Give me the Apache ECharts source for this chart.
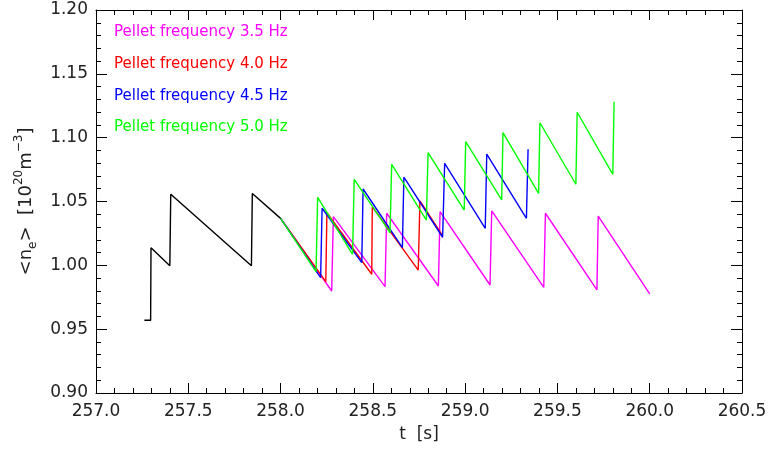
<!DOCTYPE html>
<html>
<head>
<meta charset="utf-8">
<script src="https://cdn.jsdelivr.net/npm/echarts@6/dist/echarts.min.js"></script>
<style>html,body{margin:0;padding:0;background:#fff}#c{width:773px;height:455px}</style>
</head>
<body>
<div id="c"></div>
<script>
// ---- data ----
var xTicks = [257.0, 257.5, 258.0, 258.5, 259.0, 259.5, 260.0, 260.5];
var yTicks = [0.90, 0.95, 1.00, 1.05, 1.10, 1.15, 1.20];

var blackT = [257.262, 257.296, 257.298, 257.400, 257.405, 257.842, 257.847, 258.000];
var blackV = [0.957, 0.957, 1.0138, 0.9997, 1.0556, 0.9997, 1.0563, 1.0368];

var magT = [258.0, 258.277, 258.286, 258.566, 258.575, 258.855, 258.864, 259.135, 259.144, 259.426, 259.435, 259.714, 259.721, 260.0];
var magV = [1.0368, 0.9799, 1.0381, 0.9833, 1.0408, 0.9838, 1.0420, 0.9846, 1.0426, 0.9828, 1.0408, 0.9807, 1.0386, 0.9776];

var redT = [258.0, 258.245, 258.251, 258.494, 258.497, 258.746, 258.755, 258.875];
var redV = [1.0368, 0.9872, 1.0412, 0.9930, 1.0459, 0.9963, 1.0504, 1.0238];

var blueT = [258.0, 258.217, 258.225, 258.440, 258.447, 258.660, 258.668, 258.878, 258.889, 259.109, 259.117, 259.332, 259.341];
var blueV = [1.0368, 0.9903, 1.0447, 1.0021, 1.0598, 1.0138, 1.0690, 1.0220, 1.0799, 1.0290, 1.0872, 1.0368, 1.0909];

var greenT = [258.0, 258.192, 258.201, 258.390, 258.399, 258.593, 258.602, 258.790, 258.799, 258.995, 259.003, 259.198, 259.205, 259.398, 259.405, 259.600, 259.607, 259.800, 259.807];
var greenV = [1.0368, 0.995, 1.0533, 1.0086, 1.0674, 1.0256, 1.0791, 1.0355, 1.0882, 1.0433, 1.0969, 1.0512, 1.1039, 1.0564, 1.1117, 1.0635, 1.1199, 1.0713, 1.1282];

var legendLabels = ['Pellet frequency 3.5 Hz', 'Pellet frequency 4.0 Hz', 'Pellet frequency 4.5 Hz', 'Pellet frequency 5.0 Hz'];
var legendColors = ['#ff00ff', '#ff0000', '#0000ff', '#00ff00'];

function pairs(t, v) { return t.map(function (x, i) { return [x, v[i]]; }); }

var FONT = '"DejaVu Sans", sans-serif';
var TXT = '#222';
var chart = echarts.init(document.getElementById('c'));

function xAxisDef(showLabel, pos) {
  return {
    type: 'value', position: pos, min: 257.0, max: 260.5, interval: 0.5,
    axisLine: { show: true, onZero: false, lineStyle: { color: '#000', width: 1 } },
    axisTick: { show: true, inside: true, length: 10, lineStyle: { color: '#000' } },
    minorTick: { show: true, splitNumber: 5, length: 5, lineStyle: { color: '#000' } },
    splitLine: { show: false },
    axisLabel: { show: showLabel, color: TXT, fontFamily: FONT, fontSize: 17, margin: 10,
      formatter: function (v) { return v.toFixed(1); } },
    name: showLabel ? 't  [s]' : '', nameLocation: 'middle', nameGap: 33,
    nameTextStyle: { color: TXT, fontFamily: FONT, fontSize: 17 }
  };
}
function yAxisDef(showLabel, pos) {
  return {
    type: 'value', position: pos, min: 0.90, max: 1.20, interval: 0.05,
    axisLine: { show: true, onZero: false, lineStyle: { color: '#000', width: 1 } },
    axisTick: { show: true, inside: true, length: 11, lineStyle: { color: '#000' } },
    minorTick: { show: true, splitNumber: 5, length: 5, lineStyle: { color: '#000' } },
    splitLine: { show: false },
    axisLabel: { show: showLabel, color: TXT, fontFamily: FONT, fontSize: 17, margin: 8,
      formatter: function (v) { return v.toFixed(2); } },
    name: showLabel ? '<n{sub|e}>  [10{sup|20}m{sup|−3}]' : '', nameLocation: 'middle', nameGap: 50,
    nameTextStyle: { color: TXT, fontFamily: FONT, fontSize: 18, lineHeight: 26,
      rich: {
        sub: { fontFamily: FONT, fontSize: 12, color: TXT, verticalAlign: 'bottom', lineHeight: 26 },
        sup: { fontFamily: FONT, fontSize: 12, color: TXT, verticalAlign: 'top', lineHeight: 26 }
      } }
  };
}

function line(data, color) {
  return { type: 'line', data: data, showSymbol: false, symbol: 'none',
    lineStyle: { color: color, width: 1.4 }, itemStyle: { color: color }, z: 3 };
}

var series = [
  line(pairs(blackT, blackV), '#000000'),
  line(pairs(magT, magV), legendColors[0]),
  line(pairs(redT, redV), legendColors[1]),
  line(pairs(blueT, blueV), legendColors[2]),
  line(pairs(greenT, greenV), legendColors[3])
];

var graphics = legendLabels.map(function (txt, i) {
  return { type: 'text', left: 114, top: 25 + i * 31.7,
    style: { text: txt, fill: legendColors[i], fontFamily: FONT, fontSize: 15 } };
});

chart.setOption({
  animation: false,
  backgroundColor: '#fff',
  grid: { left: 96, right: 31, top: 10, bottom: 62, containLabel: false },
  xAxis: [xAxisDef(true, 'bottom'), xAxisDef(false, 'top')],
  yAxis: [yAxisDef(true, 'left'), yAxisDef(false, 'right')],
  series: series,
  graphic: graphics
});
</script>
</body>
</html>
